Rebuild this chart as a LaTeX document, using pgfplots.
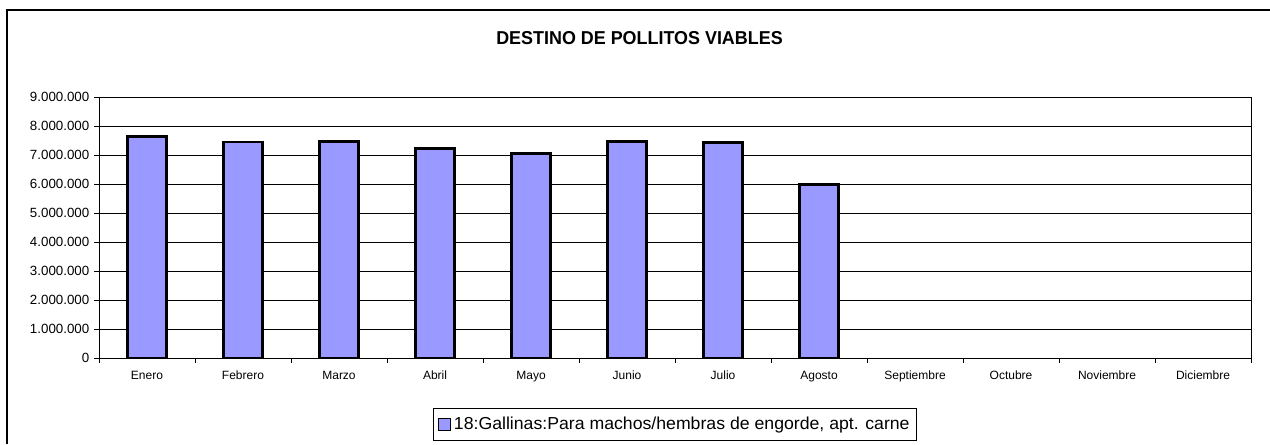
\documentclass[border=0pt]{standalone}
\usepackage{fontspec}
\setmainfont{Liberation Sans}
\usepackage{pgfplots}
\pgfplotsset{compat=1.18}
\definecolor{barfill}{HTML}{9999FF}
\begin{document}
\begin{tikzpicture}[x=0.75pt,y=0.75pt]
\path[use as bounding box] (0,0) rectangle (1270,444);
\draw[line width=1.2pt] (7,0) -- (7,434) -- (1270,434);
\node[font=\bfseries\fontsize{14}{16}\selectfont] at (639.5,405.5) {\scalebox{0.96}[1]{DESTINO DE POLLITOS VIABLES}};
\begin{axis}[
  at={(74.25pt,64.5pt)}, anchor=south west,
  width=864pt, height=195.75pt, scale only axis,
  ybar, bar width=29.25pt,
  xmin=-0.5, xmax=11.5, ymin=0, ymax=9000000,
  xtick={-0.5,0.5,...,11.5},
  x tick label as interval,
  xticklabels={Enero,Febrero,Marzo,Abril,Mayo,Junio,Julio,Agosto,Septiembre,Octubre,Noviembre,Diciembre},
  ytick={0,1000000,2000000,3000000,4000000,5000000,6000000,7000000,8000000,9000000},
  scaled y ticks=false,
  yticklabel style={/pgf/number format/fixed, /pgf/number format/1000 sep={.}, /pgf/number format/assume math mode=true, font=\fontsize{10}{12}\selectfont},
  xticklabel style={font=\fontsize{9}{11}\selectfont, text height=6.5pt, text depth=2pt, yshift=-2pt},
  tick align=outside, tick pos=left,
  major tick length=3.75pt,
  tick style={black, line width=0.6pt},
  ymajorgrids, major grid style={black, line width=0.6pt},
  axis line style={black, line width=0.6pt},
  legend style={at={(0.5,-0.2548)}, anchor=center, draw=black, line width=0.6pt,
    font=\fontsize{13}{15}\selectfont, inner xsep=3pt, inner ysep=4.5pt},
  legend image code/.code={\draw[fill=barfill, draw=black, line width=1.2pt] (0pt,-4.5pt) rectangle (9pt,4.5pt);},
]
\addplot[fill=barfill, draw=black, line width=1.8pt] coordinates {
  (0,7640000) (1,7440000) (2,7470000) (3,7220000) (4,7050000) (5,7470000) (6,7430000) (7,5980000)
};
\addlegendentry{\scalebox{1.02}[1]{18:Gallinas:Para machos/hembras de engorde, apt. carne}}
\end{axis}
\end{tikzpicture}
\end{document}
